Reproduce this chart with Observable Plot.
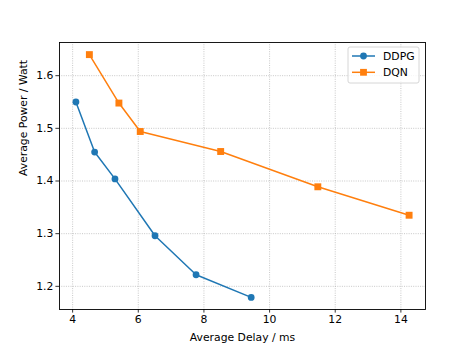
<!DOCTYPE html>
<html>
<head>
<meta charset="utf-8">
<script src="https://cdn.jsdelivr.net/npm/d3@7"></script>
<script src="https://cdn.jsdelivr.net/npm/@observablehq/plot@0.6"></script>
<style>
  html, body { margin: 0; padding: 0; background: #fff; }
  svg { display: block; }
</style>
</head>
<body>
<div id="chart"></div>
<script>
const seriesNames = ["DDPG", "DQN"];
const seriesColors = ["#1f77b4", "#ff7f0e"];
const ddpgDelay = [4.10, 4.67, 5.29, 6.51, 7.76, 9.44];
const ddpgPower = [1.550, 1.455, 1.404, 1.296, 1.222, 1.179];
const dqnDelay = [4.51, 5.41, 6.06, 8.51, 11.47, 14.25];
const dqnPower = [1.640, 1.548, 1.494, 1.456, 1.389, 1.335];
const xTicks = [4, 6, 8, 10, 12, 14];
const yTicks = [1.2, 1.3, 1.4, 1.5, 1.6];
const xLabel = "Average Delay / ms";
const yLabel = "Average Power / Watt";

const ddpg = ddpgDelay.map((d, i) => ({series: "DDPG", delay: d, power: ddpgPower[i]}));
const dqn = dqnDelay.map((d, i) => ({series: "DQN", delay: d, power: dqnPower[i]}));
const font = "DejaVu Sans, sans-serif";
const fs = 10.8;

const plot = Plot.plot({
  width: 472,
  height: 354,
  marginLeft: 59,
  marginRight: 47,
  marginTop: 42,
  marginBottom: 45,
  style: {fontFamily: font, fontSize: fs + "px", color: "#000", background: "#fff"},
  x: {domain: [3.6, 14.75], ticks: xTicks},
  y: {domain: [1.156, 1.663], ticks: yTicks},
  color: {domain: seriesNames, range: seriesColors},
  marks: [
    Plot.gridX(xTicks, {stroke: "#b0b0b0", strokeOpacity: 1, strokeWidth: 0.7, strokeDasharray: "1,1.3"}),
    Plot.gridY(yTicks, {stroke: "#b0b0b0", strokeOpacity: 1, strokeWidth: 0.7, strokeDasharray: "1,1.3"}),
    Plot.line(ddpg, {x: "delay", y: "power", stroke: "series", strokeWidth: 1.5}),
    Plot.dot(ddpg, {x: "delay", y: "power", fill: "series", r: 3.4, symbol: "circle", stroke: null}),
    Plot.line(dqn, {x: "delay", y: "power", stroke: "series", strokeWidth: 1.5}),
    Plot.dot(dqn, {x: "delay", y: "power", fill: "series", r: 3.9, symbol: "square", stroke: null}),
    Plot.axisX(xTicks, {tickSize: 3.6, tickPadding: 2.5, label: null, fontSize: fs, stroke: "#000", strokeWidth: 0.8}),
    Plot.axisY(yTicks, {tickSize: 3.6, tickPadding: 2.5, label: null, fontSize: fs, tickFormat: d3.format(".1f"), stroke: "#000", strokeWidth: 0.8}),
    Plot.frame({stroke: "#000", strokeWidth: 0.9}),
    Plot.text([xLabel], {frameAnchor: "bottom", dy: 28, text: d => d, fontSize: fs, lineAnchor: "middle", fill: "#000"}),
    Plot.text([yLabel], {frameAnchor: "left", dx: -36, rotate: -90, text: d => d, fontSize: fs, lineAnchor: "middle", fill: "#000"})
  ]
});

// Legend inside the plot (upper right), matplotlib style
const svg = d3.select(plot);
const g = svg.append("g").attr("font-family", font).attr("font-size", fs).attr("text-anchor", "start");
g.append("rect").attr("x", 348).attr("y", 47).attr("width", 71).attr("height", 36)
  .attr("rx", 2).attr("fill", "#fff").attr("fill-opacity", 0.8)
  .attr("stroke", "#cccccc").attr("stroke-width", 0.8);
seriesNames.forEach((name, i) => {
  const y = 56 + i * 16.3;
  const c = seriesColors[i];
  g.append("line").attr("x1", 352).attr("x2", 375).attr("y1", y).attr("y2", y)
    .attr("stroke", c).attr("stroke-width", 1.5);
  if (i === 0) {
    g.append("circle").attr("cx", 363.5).attr("cy", y).attr("r", 3.4).attr("fill", c);
  } else {
    g.append("rect").attr("x", 363.5 - 3.4).attr("y", y - 3.4).attr("width", 6.8).attr("height", 6.8).attr("fill", c);
  }
  g.append("text").attr("x", 383).attr("y", y).attr("dy", "0.35em").attr("text-anchor", "start").attr("fill", "#000").text(name);
});

document.getElementById("chart").appendChild(plot);
</script>
</body>
</html>
